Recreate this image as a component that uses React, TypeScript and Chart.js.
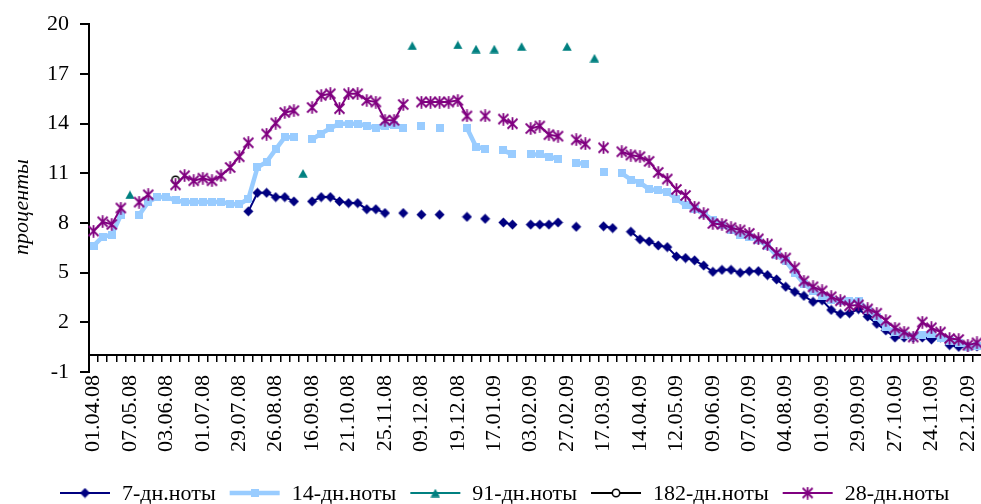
import React, { useEffect, useRef } from 'react';
import { Chart, registerables } from 'chart.js';

Chart.register(...registerables);

const categories = [
  '01.04.08', '08.04.08', '15.04.08', '22.04.08',
  '07.05.08', '13.05.08', '20.05.08', '27.05.08',
  '03.06.08', '10.06.08', '17.06.08', '24.06.08',
  '01.07.08', '08.07.08', '15.07.08', '22.07.08',
  '29.07.08', '05.08.08', '12.08.08', '19.08.08',
  '26.08.08', '02.09.08', '09.09.08', '12.09.08',
  '16.09.08', '23.09.08', '30.09.08', '07.10.08',
  '21.10.08', '28.10.08', '04.11.08', '11.11.08',
  '25.11.08', '28.11.08', '02.12.08', '05.12.08',
  '09.12.08', '12.12.08', '15.12.08', '16.12.08',
  '19.12.08', '23.12.08', '26.12.08', '13.01.09',
  '17.01.09', '20.01.09', '23.01.09', '27.01.09',
  '03.02.09', '06.02.09', '10.02.09', '17.02.09',
  '27.02.09', '03.03.09', '06.03.09', '10.03.09',
  '17.03.09', '24.03.09', '31.03.09', '07.04.09',
  '14.04.09', '21.04.09', '28.04.09', '05.05.09',
  '12.05.09', '19.05.09', '26.05.09', '02.06.09',
  '09.06.09', '16.06.09', '23.06.09', '30.06.09',
  '07.07.09', '14.07.09', '21.07.09', '28.07.09',
  '04.08.09', '11.08.09', '18.08.09', '25.08.09',
  '01.09.09', '08.09.09', '15.09.09', '22.09.09',
  '29.09.09', '06.10.09', '13.10.09', '20.10.09',
  '27.10.09', '03.11.09', '10.11.09', '17.11.09',
  '24.11.09', '01.12.09', '08.12.09', '15.12.09',
  '22.12.09', '29.12.09',
];

// 7-дн.ноты
const notes7 = [
  null, null, null, null, null, null, null, null, null, null,
  null, null, null, null, null, null, null, 8.7, 9.82, 9.82,
  9.56, 9.56, 9.3, null, 9.3, 9.56, 9.56, 9.3, 9.2, 9.2,
  8.83, 8.83, 8.6, null, 8.6, null, 8.5, null, 8.5, null,
  null, 8.37, null, 8.25, null, 8.03, 7.9, null, 7.9, 7.9,
  7.9, 8.03, null, 7.77, null, null, 7.8, 7.69, null, 7.47,
  7.01, 6.88, 6.64, 6.54, 5.98, 5.88, 5.74, 5.43, 5.05, 5.17,
  5.17, 4.99, 5.09, 5.09, 4.85, 4.59, 4.15, 3.84, 3.6, 3.24,
  3.33, 2.75, 2.51, 2.55, 2.8, 2.35, 1.91, 1.51, 1.08, 1.08,
  1.08, 1.08, 0.96, 1.08, 0.62, 0.52, 0.52, 0.55,
];

// 14-дн.ноты
const notes14 = [
  6.62, 7.17, 7.27, 8.47, null, 8.47, 9.26, 9.56, 9.56, 9.36,
  9.26, 9.26, 9.26, 9.26, 9.26, 9.16, 9.12, 9.46, 11.35, 11.69,
  12.44, 13.18, 13.18, null, 13.05, 13.4, 13.72, 13.99, 13.99, 13.99,
  13.87, 13.73, 13.83, 13.9, 13.73, null, 13.83, null, 13.73, null,
  null, 13.73, 12.6, 12.48, null, 12.38, 12.14, null, 12.14, 12.14,
  12.0, 11.88, null, 11.64, 11.54, null, 11.09, null, 10.99, 10.62,
  10.42, 10.05, 9.96, 9.86, 9.46, 9.06, 8.86, 8.56, 8.17, 7.9,
  7.57, 7.28, 7.17, 6.97, 6.62, 6.04, 5.69, 4.99, 4.33, 3.9,
  3.6, 3.35, 3.3, 3.3, 3.3, 2.75, 2.3, 1.71, 1.41, 1.21,
  1.11, 1.21, 1.31, 1.07, 0.9, 0.76, 0.52, 0.6,
];

// 91-дн.ноты (sparse: auction date, rate)
const notes91 = [
  { x: '07.05.08', y: 9.7 },
  { x: '12.09.08', y: 11.0 },
  { x: '05.12.08', y: 18.7 },
  { x: '19.12.08', y: 18.75 },
  { x: '26.12.08', y: 18.5 },
  { x: '17.01.09', y: 18.5 },
  { x: '27.01.09', y: 18.65 },
  { x: '27.02.09', y: 18.65 },
  { x: '10.03.09', y: 17.95 },
];

// 182-дн.ноты
const notes182 = [{ x: '10.06.08', y: 10.6 }];

// 28-дн.ноты
const notes28 = [
  7.51, 8.07, 7.91, 8.9, null, 9.26, 9.7, null, null, 10.3,
  10.85, 10.55, 10.7, 10.55, 10.85, 11.35, 12.0, 12.84, null, 13.37,
  14.03, 14.67, 14.78, null, 14.97, 15.7, 15.8, 14.9, 15.8, 15.8,
  15.4, 15.3, 14.2, 14.2, 15.15, null, 15.3, 15.3, 15.3, 15.3,
  15.4, 14.46, null, 14.46, null, 14.27, 13.99, null, 13.7, 13.85,
  13.33, 13.24, null, 13.02, 12.77, null, 12.54, null, 12.3, 12.1,
  12.0, 11.72, 11.05, 10.65, 10.02, 9.66, 8.96, 8.56, 7.97, 7.91,
  7.71, 7.57, 7.37, 7.04, 6.72, 6.18, 5.88, 5.29, 4.49, 4.14,
  3.9, 3.54, 3.3, 3.0, 3.05, 2.81, 2.55, 2.11, 1.65, 1.41,
  1.11, 2.01, 1.67, 1.41, 1.02, 0.96, 0.62, 0.76,
];

const yMin = -1;
const yMax = 20;
const yStep = 3;
const yTitle = 'проценты';

const FONT = '"Liberation Serif", "Times New Roman", serif';
const FONT_SIZE = 22;
const CANVAS_W = 990;
const CANVAS_H = 504;

function makeMarker(kind: string, color: string): HTMLCanvasElement {
  const c = document.createElement('canvas');
  const ctx = c.getContext('2d') as CanvasRenderingContext2D;
  if (kind === 'diamond') {
    c.width = 11; c.height = 11;
    ctx.fillStyle = color;
    ctx.beginPath();
    ctx.moveTo(5.5, 0.5); ctx.lineTo(10.5, 5.5); ctx.lineTo(5.5, 10.5); ctx.lineTo(0.5, 5.5);
    ctx.closePath(); ctx.fill();
  } else if (kind === 'square') {
    c.width = 8; c.height = 8;
    ctx.fillStyle = color;
    ctx.fillRect(0, 0, 8, 8);
  } else if (kind === 'triangle') {
    c.width = 10; c.height = 9;
    ctx.fillStyle = color;
    ctx.beginPath();
    ctx.moveTo(5, 0.3); ctx.lineTo(9.7, 8.7); ctx.lineTo(0.3, 8.7);
    ctx.closePath(); ctx.fill();
  } else if (kind === 'circle') {
    c.width = 10; c.height = 10;
    ctx.beginPath();
    ctx.arc(5, 5, 3.7, 0, Math.PI * 2);
    ctx.fillStyle = '#ffffff'; ctx.fill();
    ctx.lineWidth = 1.5; ctx.strokeStyle = color; ctx.stroke();
  } else {
    c.width = 13; c.height = 13;
    ctx.strokeStyle = color; ctx.lineWidth = 1.8; ctx.lineCap = 'butt';
    ctx.beginPath();
    ctx.moveTo(1.5, 1.5); ctx.lineTo(11.5, 11.5);
    ctx.moveTo(11.5, 1.5); ctx.lineTo(1.5, 11.5);
    ctx.moveTo(6.5, 0.3); ctx.lineTo(6.5, 12.7);
    ctx.stroke();
  }
  return c;
}

export default function App() {
  const ref = useRef<HTMLCanvasElement | null>(null);

  useEffect(() => {
    if (!ref.current) return;
    const series = [
      { label: '7-дн.ноты', color: '#000080', width: 2, marker: makeMarker('diamond', '#000080') },
      { label: '14-дн.ноты', color: '#99CCFF', width: 4.5, marker: makeMarker('square', '#99CCFF') },
      { label: '91-дн.ноты', color: '#008080', width: 2, marker: makeMarker('triangle', '#008080') },
      { label: '182-дн.ноты', color: '#000000', width: 2, marker: makeMarker('circle', '#000000') },
      { label: '28-дн.ноты', color: '#800080', width: 2, marker: makeMarker('star', '#800080') },
    ];
    const dataArr: any[] = [notes7, notes14, notes91, notes182, notes28];

    const legendPlugin = {
      id: 'customLegend',
      afterDraw(chart: any) {
        const ctx = chart.ctx as CanvasRenderingContext2D;
        ctx.save();
        ctx.font = `${FONT_SIZE}px ${FONT}`;
        ctx.textBaseline = 'middle';
        ctx.textAlign = 'left';
        const y = 493;
        const lineLen = 50;
        let x = 60;
        series.forEach((s) => {
          ctx.beginPath();
          ctx.strokeStyle = s.color;
          ctx.lineWidth = s.width;
          ctx.moveTo(x, y);
          ctx.lineTo(x + lineLen, y);
          ctx.stroke();
          ctx.drawImage(s.marker, x + lineLen / 2 - s.marker.width / 2, y - s.marker.height / 2);
          x += lineLen + 12;
          ctx.fillStyle = '#000';
          ctx.fillText(s.label, x, y + 1);
          x += ctx.measureText(s.label).width + 14;
        });
        ctx.restore();
      },
    };

    const titlePlugin = {
      id: 'yTitle',
      afterDraw(chart: any) {
        const ctx = chart.ctx as CanvasRenderingContext2D;
        ctx.save();
        ctx.translate(22, 207);
        ctx.rotate(-Math.PI / 2);
        ctx.font = `italic ${FONT_SIZE}px ${FONT}`;
        ctx.fillStyle = '#000';
        ctx.textAlign = 'center';
        ctx.textBaseline = 'middle';
        ctx.fillText(yTitle, 0, 0);
        ctx.restore();
      },
    };

    const chart = new Chart(ref.current, {
      type: 'line',
      data: {
        labels: categories,
        datasets: series.map((s, i) => ({
          label: s.label,
          data: dataArr[i],
          borderColor: s.color,
          backgroundColor: s.color,
          borderWidth: s.width,
          pointStyle: s.marker as any,
          pointRadius: 4,
          pointHoverRadius: 4,
          showLine: i !== 2 && i !== 3,
          spanGaps: false,
          tension: 0,
          order: 5 - i,
          xAxisID: 'x',
          yAxisID: 'y',
        })) as any,
      },
      options: {
        animation: false,
        responsive: false,
        events: [],
        layout: { padding: { top: 20, right: 4, bottom: 0, left: 0 } },
        plugins: {
          legend: { display: false },
          tooltip: { enabled: false },
        },
        scales: {
          x: {
            type: 'category',
            offset: true,
            grid: { display: false, drawTicks: false },
            border: { display: false },
            ticks: {
              autoSkip: false,
              maxRotation: 90,
              minRotation: 90,
              padding: 3,
              color: '#000',
              font: { family: FONT, size: FONT_SIZE },
              callback: (_v: any, i: number) => (i % 4 === 0 ? categories[i] : ''),
            },
            afterFit: (s: any) => {
              s.height = CANVAS_H - 372;
              s.paddingLeft = 0;
              s.paddingRight = 0;
            },
          },
          x2: {
            type: 'category',
            axis: 'x',
            position: { y: 0 },
            offset: true,
            grid: {
              display: true,
              offset: true,
              drawOnChartArea: false,
              drawTicks: true,
              tickLength: 6,
              color: '#000',
              lineWidth: 1.5,
            },
            border: { display: true, color: '#000', width: 2 },
            ticks: { display: false, autoSkip: false },
          },
          y: {
            min: yMin,
            max: yMax,
            ticks: {
              stepSize: yStep,
              padding: 11,
              color: '#000',
              font: { family: FONT, size: FONT_SIZE },
            },
            grid: {
              drawOnChartArea: false,
              drawTicks: true,
              tickLength: 9,
              color: '#000',
              lineWidth: 2,
            },
            border: { display: true, color: '#000', width: 2 },
            afterFit: (s: any) => {
              s.width = 89;
            },
          },
        } as any,
      },
      plugins: [legendPlugin, titlePlugin],
    });
    return () => chart.destroy();
  }, []);

  return (
    <div style={{ position: 'fixed', left: 0, top: 0, width: 981, height: 504, overflow: 'hidden', background: '#fff' }}>
      <canvas ref={ref} width={CANVAS_W} height={CANVAS_H} style={{ display: 'block', width: CANVAS_W, height: CANVAS_H }} />
    </div>
  );
}
